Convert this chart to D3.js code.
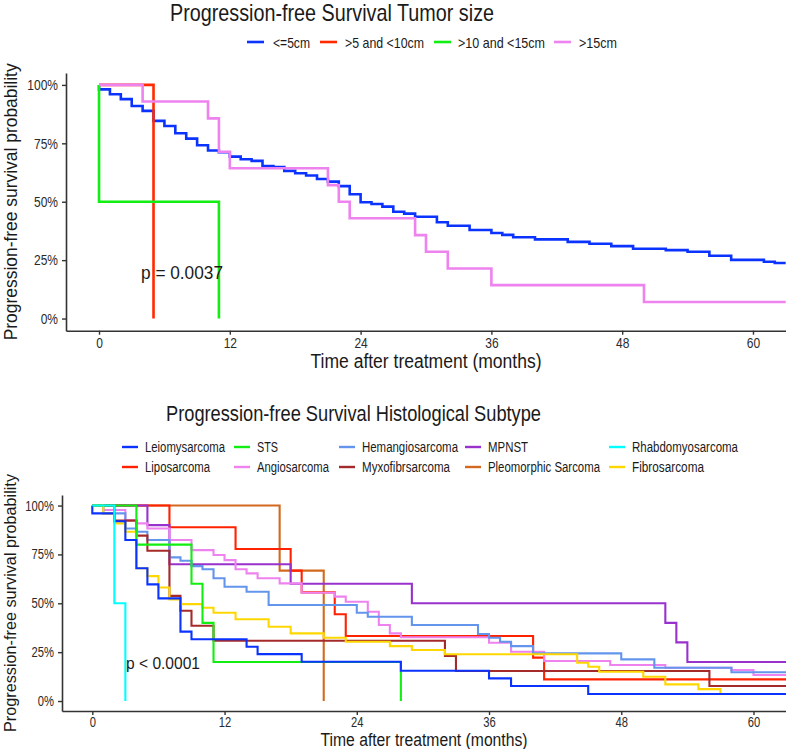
<!DOCTYPE html>
<html><head><meta charset="utf-8">
<script src="https://cdn.jsdelivr.net/npm/d3@7"></script>
<style>
html,body{margin:0;padding:0;background:#fff;}
svg{display:block;font-family:"Liberation Sans",Arial,sans-serif;}
</style></head>
<body><svg id="c" width="786" height="749"></svg>
<script>
// ---------- DATA: top panel (Tumor size) ----------
const sizeGroups = ["<=5cm", ">5 and <10cm", ">10 and <15cm", ">15cm"];
const le5Time = [0,0,1,2,3,4,5,6,7,8,9,10,11,12,13,14,15,16,17,18,19,20,21,22,23,24,25,26,27,28,29,31,32,34,36,37,38,40,43,45,47,49,52,54,56,58,61,62,63];
const le5Surv = [1,0.981,0.960,0.939,0.910,0.889,0.846,0.824,0.793,0.770,0.742,0.719,0.712,0.693,0.682,0.675,0.653,0.648,0.632,0.622,0.612,0.597,0.586,0.567,0.532,0.498,0.490,0.479,0.457,0.449,0.436,0.412,0.397,0.379,0.366,0.358,0.348,0.339,0.328,0.320,0.310,0.299,0.293,0.286,0.269,0.251,0.243,0.238,0.238];
const s5to10Time = [0,5];
const s5to10Surv = [1,0];
const s10to15Time = [0,0,11];
const s10to15Surv = [1,0.5,0];
const gt15Time = [0,4,10,11,12,21,22,23,29,30,32,36,50,63];
const gt15Surv = [1,0.929,0.857,0.714,0.643,0.571,0.5,0.429,0.357,0.286,0.214,0.143,0.071,0.071];
const sizeColors = ["#0a33ff","#ff2a00","#11ee11","#ee82ee"];
const timeTicks = [0,12,24,36,48,60];
const survTicks = [0,0.25,0.5,0.75,1];
const survTickLabels = ["0%","25%","50%","75%","100%"];

// ---------- DATA: bottom panel (Histological subtype) ----------
const subtypes = ["Leiomysarcoma","STS","Hemangiosarcoma","MPNST","Rhabdomyosarcoma",
                  "Liposarcoma","Angiosarcoma","Myxofibrsarcoma","Pleomorphic Sarcoma","Fibrosarcoma"];
const subtypeColors = ["#0a33ff","#11ee11","#6495ed","#9932cc","#00ffff",
                       "#ff2200","#ee82ee","#a52a2a","#d2691e","#ffd700"];
const leioTime = [0,0,2,3,4,5,6,8,9,14,15,19,28,36,38,45,63];
const leioSurv = [1,0.96,0.92,0.824,0.679,0.597,0.525,0.355,0.316,0.278,0.24,0.201,0.155,0.116,0.077,0.036,0.036];
const stsTime = [0,4,9,10,11,28];
const stsSurv = [1,0.8,0.6,0.4,0.2,0];
const hemTime = [0,1,3,4,5,7,8,9,10,11,12,14,16,24,25,29,35,36,37,38,40,48,51,58,63];
const hemSurv = [1,0.96,0.883,0.866,0.824,0.735,0.718,0.69,0.674,0.628,0.585,0.559,0.491,0.452,0.431,0.389,0.343,0.324,0.303,0.281,0.244,0.213,0.17,0.147,0.147];
const mpnstTime = [0,5,7,18,29,52,53,54,63];
const mpnstSurv = [1,0.9,0.7,0.6,0.5,0.4,0.3,0.2,0.2];
const rhabTime = [0,2,3];
const rhabSurv = [1,0.5,0];
const lipoTime = [0,7,13,18,19,22,23,40,41,63];
const lipoSurv = [1,0.889,0.778,0.667,0.556,0.444,0.333,0.222,0.111,0.111];
const angioTime = [0,1,3,4,5,7,9,11,12,13,14,15,17,19,22,23,25,26,27,28,36,38,41,47,52,58,60,63];
const angioSurv = [1,0.977,0.926,0.909,0.883,0.824,0.772,0.747,0.721,0.674,0.653,0.628,0.602,0.554,0.534,0.508,0.457,0.389,0.346,0.326,0.298,0.252,0.205,0.184,0.17,0.159,0.133,0.133];
const myxoTime = [0,2,4,5,7,8,9,11,32,33,56,63];
const myxoSurv = [1,0.923,0.846,0.769,0.538,0.462,0.385,0.308,0.231,0.154,0.077,0.077];
const pleoTime = [0,17,21];
const pleoSurv = [1,0.667,0];
const fibroTime = [0,1,2,3,4,5,6,7,8,10,11,13,16,18,21,23,27,29,32,44,45,46,50,52,55,57,63];
const fibroSurv = [1,0.96,0.909,0.866,0.679,0.639,0.581,0.52,0.496,0.477,0.452,0.418,0.38,0.346,0.324,0.303,0.281,0.261,0.239,0.196,0.175,0.15,0.124,0.085,0.061,0.036,0.036];

const topSeries = [
  {name:sizeGroups[0], t:le5Time, s:le5Surv, c:sizeColors[0]},
  {name:sizeGroups[1], t:s5to10Time, s:s5to10Surv, c:sizeColors[1]},
  {name:sizeGroups[2], t:s10to15Time, s:s10to15Surv, c:sizeColors[2]},
  {name:sizeGroups[3], t:gt15Time, s:gt15Surv, c:sizeColors[3]}
];
const botData = {
  "Leiomysarcoma":[leioTime,leioSurv], "STS":[stsTime,stsSurv], "Hemangiosarcoma":[hemTime,hemSurv],
  "MPNST":[mpnstTime,mpnstSurv], "Rhabdomyosarcoma":[rhabTime,rhabSurv], "Liposarcoma":[lipoTime,lipoSurv],
  "Angiosarcoma":[angioTime,angioSurv], "Myxofibrsarcoma":[myxoTime,myxoSurv],
  "Pleomorphic Sarcoma":[pleoTime,pleoSurv], "Fibrosarcoma":[fibroTime,fibroSurv]
};
const botOrder = ["Pleomorphic Sarcoma","Liposarcoma","MPNST","Angiosarcoma","Hemangiosarcoma","Myxofibrsarcoma","Fibrosarcoma","STS","Leiomysarcoma","Rhabdomyosarcoma"];

const svg = d3.select("#c");
const axisCol = "#333";
const textCol = "#1a1a1a";

function fitText(sel, width){
  sel.attr("textLength", width).attr("lengthAdjust","spacingAndGlyphs");
}
function condense(sel, f){
  sel.each(function(){
    const w = this.getComputedTextLength();
    d3.select(this).attr("textLength", w*f).attr("lengthAdjust","spacingAndGlyphs");
  });
}

function panel(cfg){
  const x = d3.scaleLinear().domain(cfg.xDom).range([cfg.left, 786]);
  const y = d3.scaleLinear().domain(cfg.yDom).range([cfg.bottom, cfg.top]);
  const g = svg.append("g");
  const clipId = "clip"+cfg.id;
  svg.append("clipPath").attr("id",clipId).append("rect")
    .attr("x",cfg.left).attr("y",cfg.top-5).attr("width",786-cfg.left).attr("height",cfg.bottom-cfg.top+5);
  const line = d3.line().x(d=>x(d[0])).y(d=>y(d[1])).curve(d3.curveStepAfter);
  const lg = g.append("g").attr("clip-path",`url(#${clipId})`);
  cfg.series.forEach(sr=>{
    const pts = sr.t.map((t,i)=>[t,sr.s[i]]);
    lg.append("path").attr("d",line(pts)).attr("fill","none")
      .attr("stroke",sr.c).attr("stroke-width",cfg.lw).attr("stroke-linejoin","miter");
  });
  const xa = d3.axisBottom(x).tickValues(timeTicks).tickSize(4).tickSizeOuter(0).tickPadding(cfg.xPad);
  const ya = d3.axisLeft(y).tickValues(survTicks).tickFormat((d,i)=>survTickLabels[i]).tickSize(4).tickSizeOuter(0).tickPadding(4);
  const gx = g.append("g").attr("transform",`translate(0,${cfg.bottom})`).call(xa);
  const gy = g.append("g").attr("transform",`translate(${cfg.left},0)`).call(ya);
  [gx,gy].forEach(a=>{
    a.select(".domain").attr("stroke",axisCol).attr("stroke-width",1.6);
    a.selectAll(".tick line").attr("stroke",axisCol).attr("stroke-width",1.4);
    a.selectAll(".tick text").attr("fill","#2a2a2a").attr("font-size",cfg.tickFs).attr("font-family","Liberation Sans, Arial, sans-serif");
    condense(a.selectAll(".tick text"), 0.8);
  });
  const xt = g.append("text").attr("x",(cfg.left+786)/2).attr("y",cfg.xTitleY).attr("text-anchor","middle")
    .attr("font-size",cfg.titleFs).attr("fill",textCol).text("Time after treatment (months)");
  fitText(xt, cfg.xTitleW);
  const yt = g.append("text").attr("transform",`translate(${cfg.yTitleX},${(cfg.top+cfg.bottom)/2}) rotate(-90)`)
    .attr("text-anchor","middle").attr("font-size",cfg.yTitleFs).attr("fill",textCol)
    .text("Progression-free survival probability");
  fitText(yt, cfg.yTitleW);
  const pt = g.append("text").attr("x",cfg.pX).attr("y",cfg.pY).attr("font-size",cfg.pFs).attr("fill",textCol).text(cfg.pText);
  fitText(pt, cfg.pW);
  const mt = g.append("text").attr("x",cfg.mainX).attr("y",cfg.mainY).attr("font-size",cfg.mainFs).attr("fill",textCol).text(cfg.main);
  fitText(mt, cfg.mainW);
  return {x,y,g};
}

// top panel
panel({id:"a", xDom:[-3.03,63.03], left:66, yDom:[-0.052,1.051], top:73, bottom:330.7,
  series:topSeries, lw:2.6, tickFs:15, xPad:3, titleFs:20, xTitleW:231, yTitleFs:18, yTitleW:277, xTitleY:368, yTitleX:17,
  pX:141, pY:279, pFs:18, pW:82, pText:"p = 0.0037",
  main:"Progression-free Survival Tumor size", mainX:170, mainY:21, mainFs:24, mainW:324});

// top legend
const topLegLineX = [247,320,434,554];
const topLegTextX = [273,345,458,579];
const topLegTextW = [37,79,87,38];
const tl = svg.append("g");
sizeGroups.forEach((nm,i)=>{
  tl.append("line").attr("x1",topLegLineX[i]).attr("x2",topLegLineX[i]+17).attr("y1",42).attr("y2",42)
    .attr("stroke",sizeColors[i]).attr("stroke-width",2.6);
  const t = tl.append("text").attr("x",topLegTextX[i]).attr("y",47.5).attr("font-size",15).attr("fill",textCol).text(nm);
  fitText(t, topLegTextW[i]);
});

// bottom panel
panel({id:"b", xDom:[-2.75,62.95], left:62, yDom:[-0.051,1.054], top:495, bottom:711,
  series:botOrder.map(nm=>({name:nm,t:botData[nm][0],s:botData[nm][1],c:subtypeColors[subtypes.indexOf(nm)]})),
  lw:2.1, tickFs:14, xPad:2, titleFs:18, xTitleW:207, yTitleFs:16.5, yTitleW:258, xTitleY:746, yTitleX:15.5,
  pX:126, pY:669, pFs:17, pW:74, pText:"p < 0.0001",
  main:"Progression-free Survival Histological Subtype", mainX:166, mainY:421, mainFs:22, mainW:375});

// bottom legend (5 columns x 2 rows)
const botLegLineX = [122,234,339,465,609];
const botLegTextW = [80,21,96,40,106,65,72,88,112,72];
const botLegY = [447,467];
const bl = svg.append("g");
subtypes.forEach((nm,i)=>{
  const col = i%5, row = Math.floor(i/5);
  bl.append("line").attr("x1",botLegLineX[col]).attr("x2",botLegLineX[col]+16).attr("y1",botLegY[row]).attr("y2",botLegY[row])
    .attr("stroke",subtypeColors[i]).attr("stroke-width",2.4);
  const t = bl.append("text").attr("x",botLegLineX[col]+23).attr("y",botLegY[row]+5).attr("font-size",14).attr("fill",textCol).text(nm);
  fitText(t, botLegTextW[i]);
});
</script></body></html>
